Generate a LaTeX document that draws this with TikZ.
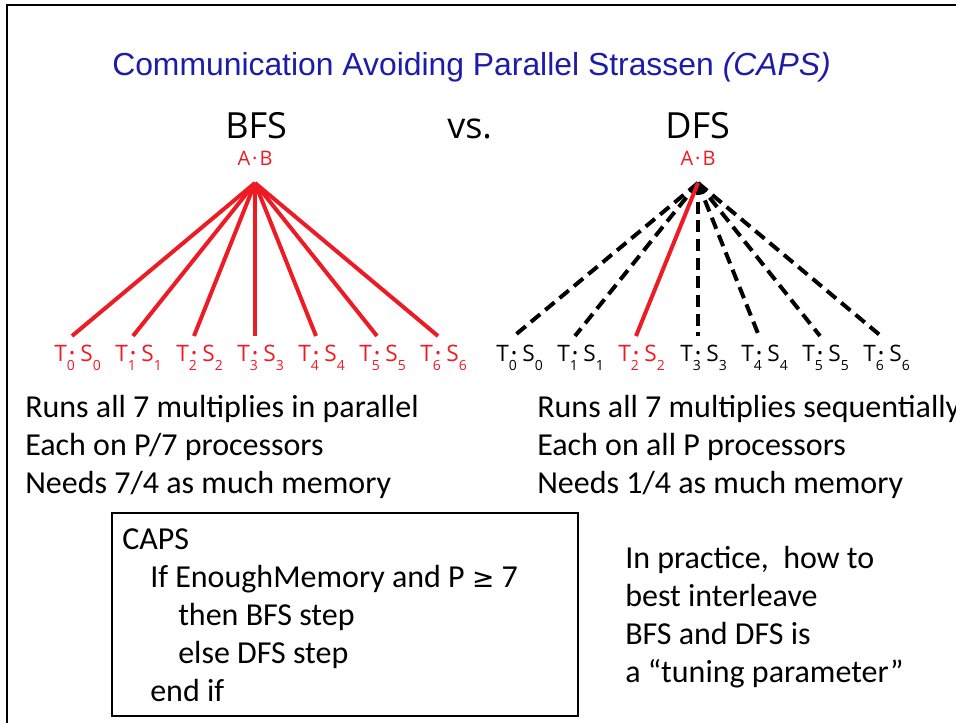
\documentclass[tikz,border=0pt]{standalone}
\usepackage{fontspec}
\setmainfont{Carlito}
\newfontfamily\arialf{Liberation Sans}
\newfontfamily\myr{Open Sans}
\newfontfamily\djv{DejaVu Sans}
\definecolor{capsred}{RGB}{237,28,36}
\definecolor{capsblue}{RGB}{28,28,168}
\newcommand{\tsub}[1]{\raisebox{-6pt}{\fontsize{10.5}{11}\selectfont #1}}
\newcommand{\leaflab}[1]{T\kern0.1pt\tsub{#1}\kern-4.1pt\raisebox{2.6pt}{\fontsize{11}{11}\selectfont •}\kern4pt S\kern0.1pt\tsub{#1}}
\tikzset{
  txt/.style={anchor=base west, inner sep=0pt, font=\fontsize{24}{28}\selectfont},
  hdr/.style={anchor=base west, inner sep=0pt, font=\myr\fontsize{27}{30}\selectfont},
  rootlab/.style={anchor=base, inner sep=0pt, text=capsred, font=\myr\fontsize{15}{17}\selectfont},
  leaf/.style={anchor=base west, inner sep=0pt, font=\myr\fontsize{17}{19}\selectfont},
  redleaf/.style={leaf, text=capsred},
  blackleaf/.style={leaf, text=black},
  redbranch/.style={draw=capsred, line width=3pt},
  dfsbranch/.style={draw=black, line width=3pt, dash pattern=on 9pt off 5pt},
}
\begin{document}
\begin{tikzpicture}[x=0.75pt, y=-0.75pt]
\useasboundingbox (0,0) rectangle (956,723);
% frame (cropped slide border)
\draw[line width=1.5pt] (7,723) -- (7,5) -- (956,5);
% title
\node (title) [anchor=base west, inner sep=0pt, text=capsblue, font=\arialf\fontsize{23.9}{26}\selectfont] at (112,76) {Communication Avoiding Parallel Strassen \textit{(CAPS)}};
% headers
\node (bfs) [hdr] at (225,139) {BFS};
\node (vs) [hdr] at (447,139) {vs.};
\node (dfs) [hdr] at (665,139) {DFS};
\node (ab1) [rootlab] at (255,166) {A\kern1.5pt·\kern1.5pt B};
\node (ab2) [rootlab] at (698,166) {A\kern1.5pt·\kern1.5pt B};
\coordinate (r1) at (255,183);
\coordinate (r2) at (698,183);
% BFS leaves
\foreach \i/\x in {0/72,1/133,2/194,3/255,4/316,5/377,6/438} {
  \coordinate (b\i) at (\x,336);
  \node (bl\i) [redleaf] at (\x-18,362) {\leaflab{\i}};
  \draw[redbranch] (r1) -- (b\i);
}
% DFS leaves
\foreach \i/\x in {0/514,1/575,2/636,3/698,4/759,5/820,6/881} {
  \coordinate (d\i) at (\x,336);
}
\foreach \i/\x in {0/514,1/575,3/698,4/759,5/820,6/881} {
  \node (dl\i) [blackleaf] at (\x-18,362) {\leaflab{\i}};
  \draw[dfsbranch] (r2) -- (d\i);
}
\node (dl2) [redleaf] at (636-18,362) {\leaflab{2}};
\draw[redbranch] (r2) -- (d2);
% descriptions
\node (bt1) [txt] at (25,417) {Runs all 7 multiplies in parallel};
\node (bt2) [txt] at (25,455) {Each on P/7 processors};
\node (bt3) [txt] at (25,493) {Needs 7/4 as much memory};
\node (dt1) [txt] at (537,417) {Runs all 7 multiplies sequentially};
\node (dt2) [txt] at (537,455) {Each on all P processors};
\node (dt3) [txt] at (537,493) {Needs 1/4 as much memory};
% CAPS box
\node (capsbox) [draw, line width=1.2pt, anchor=north west, inner sep=0pt, minimum width=349.5pt, minimum height=152.25pt] at (111,512) {};
\node (c1) [txt] at (122,549) {CAPS};
\node (c2) [txt] at (150,587) {If EnoughMemory and P {\djv\fontsize{20}{24}\selectfont ≥} 7};
\node (c3) [txt] at (178,625) {then BFS step};
\node (c4) [txt] at (178,663) {else DFS step};
\node (c5) [txt] at (150,701) {end if};
% remark
\node (p1) [txt] at (625,568) {In practice,\ \ how to};
\node (p2) [txt] at (625,606) {best interleave};
\node (p3) [txt] at (625,644) {BFS and DFS is};
\node (p4) [txt] at (625,682) {a “tuning parameter”};
\end{tikzpicture}
\end{document}
